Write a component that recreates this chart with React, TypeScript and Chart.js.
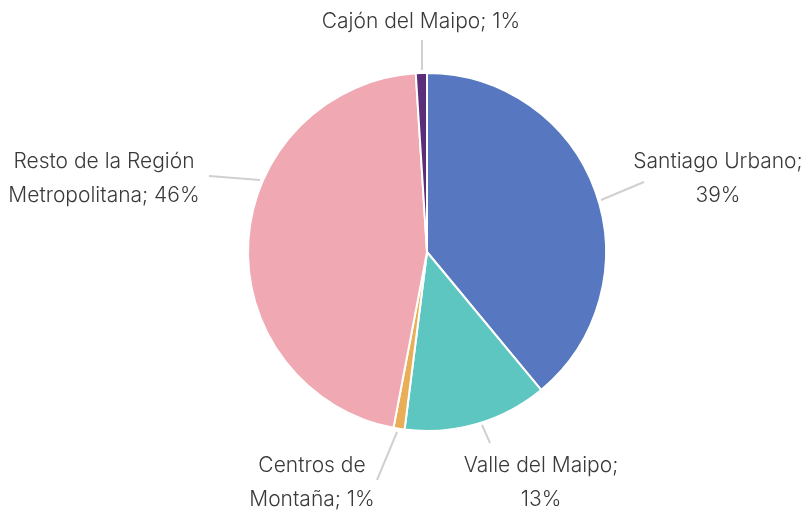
import React, { useEffect, useRef } from "react";
import { Chart, registerables } from "chart.js";

Chart.register(...registerables);

const categories = [
  "Santiago Urbano",
  "Valle del Maipo",
  "Centros de Montaña",
  "Resto de la Región Metropolitana",
  "Cajón del Maipo",
];
const shares = [39, 13, 1, 46, 1];
const colors = ["#5778C0", "#5EC6C0", "#E8AE58", "#F0A8B2", "#5C2D78"];
const labelLines = [
  ["Santiago Urbano;", "39%"],
  ["Valle del Maipo;", "13%"],
  ["Centros de", "Montaña; 1%"],
  ["Resto de la Región", "Metropolitana; 46%"],
  ["Cajón del Maipo; 1%"],
];

// label layout relative to pie centre (px): text centre, leader start & end
const layout = [
  { tx: 291, ty: -73, sx: 174, sy: -52, ex: 217, ey: -70 },
  { tx: 114, ty: 231, sx: 55, sy: 173, ex: 63, ey: 191 },
  { tx: -115, ty: 231, sx: -30, sy: 180, ex: -50, ey: 228 },
  { tx: -323, ty: -73, sx: -167, sy: -72, ex: -218, ey: -76 },
  { tx: -6, ty: -230, sx: -5, sy: -182, ex: -5, ey: -212 },
];

const labelPlugin = {
  id: "pieLabels",
  afterDraw(chart: any) {
    const meta = chart.getDatasetMeta(0);
    const ctx = chart.ctx;
    ctx.save();
    meta.data.forEach((arc: any, i: number) => {
      const cx = arc.x;
      const cy = arc.y;
      const L = layout[i];
      ctx.strokeStyle = "#D0D0D0";
      ctx.lineWidth = 2;
      ctx.beginPath();
      ctx.moveTo(cx + L.sx, cy + L.sy);
      ctx.lineTo(cx + L.ex, cy + L.ey);
      ctx.stroke();
      ctx.fillStyle = "#3A3A3A";
      ctx.font = "300 21px Inter";
      ctx.textAlign = "center";
      ctx.textBaseline = "middle";
      const lines = labelLines[i];
      const lh = 34;
      const y0 = cy + L.ty - ((lines.length - 1) * lh) / 2;
      lines.forEach((t, k) => ctx.fillText(t, cx + L.tx, y0 + k * lh));
    });
    ctx.restore();
  },
};

export default function App() {
  const ref = useRef<HTMLCanvasElement | null>(null);
  useEffect(() => {
    document.body.style.margin = "0";
    const chart = new Chart(ref.current!, {
      type: "pie",
      data: {
        labels: categories,
        datasets: [
          {
            data: shares,
            backgroundColor: colors,
            borderColor: "#FFFFFF",
            borderWidth: 2,
          },
        ],
      },
      options: {
        animation: false,
        responsive: false,
        events: [],
        layout: { padding: { left: 247, right: 200, top: 72, bottom: 81 } },
        plugins: { legend: { display: false }, tooltip: { enabled: false } },
      },
      plugins: [labelPlugin],
    });
    return () => chart.destroy();
  }, []);
  return (
    <div style={{ width: 807, height: 513, background: "#fff" }}>
      <canvas ref={ref} width={807} height={513} style={{ display: "block" }} />
    </div>
  );
}
